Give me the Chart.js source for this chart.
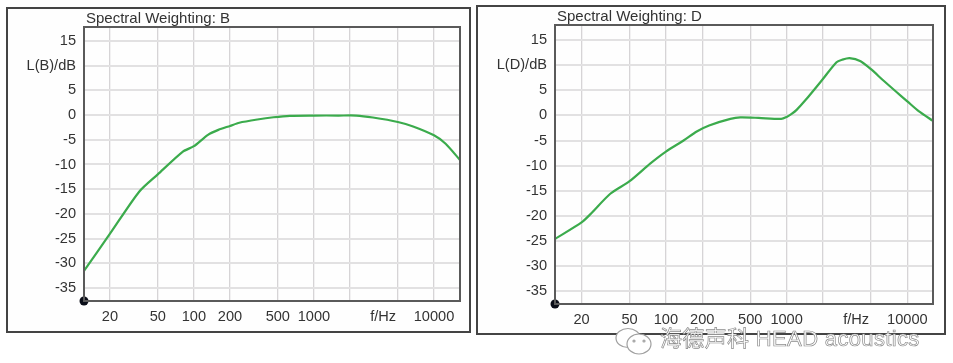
<!DOCTYPE html>
<html>
<head>
<meta charset="utf-8">
<title>Spectral Weighting</title>
<script src="https://cdn.jsdelivr.net/npm/chart.js@4/dist/chart.umd.min.js"></script>
<style>
  html, body { margin: 0; padding: 0; background: #fff; }
  body { width: 953px; height: 363px; position: relative; overflow: hidden; }
  .panel { position: absolute; border: 2px solid #444; background: #fefefe; box-sizing: border-box; }
  .panel canvas { position: absolute; left: 0; top: 0; }
  #panel-b { left: 6px; top: 7px; width: 465px; height: 326px; }
  #panel-d { left: 476px; top: 5px; width: 470px; height: 330px; }
  #mark { position: absolute; left: 660px; top: 326px; font: 22px/26px "Liberation Sans", "Noto Sans CJK SC", sans-serif;
          color: #fff; -webkit-text-stroke: 0.7px #8c8c8c; white-space: nowrap; letter-spacing: 0.35px; }
  #mark-icon { position: absolute; left: 614px; top: 327px; }
</style>
</head>
<body>
<div class="panel" id="panel-b"><canvas id="chartB" width="461" height="322"></canvas></div>
<div class="panel" id="panel-d"><canvas id="chartD" width="466" height="326"></canvas></div>
<svg id="mark-icon" width="40" height="30" fill="#fff" stroke="#a0a0a0" stroke-width="1.2">
  <ellipse cx="14" cy="11" rx="12" ry="9.5"/>
  <ellipse cx="25" cy="17" rx="12" ry="10"/>
  <circle cx="20" cy="14" r="1"/>
  <circle cx="30" cy="14" r="1"/>
</svg>
<div id="mark">海德声科 HEAD acoustics</div>

<script>
// Values
const freqB = [12.15, 20, 35, 50, 81, 100, 131, 160, 200, 239, 338, 460, 630, 1000, 1600, 2260, 3100, 5000, 6700, 10000, 12500, 16470];
const levelB = [-31.5, -24, -15.5, -12, -7.4, -6.3, -4, -3, -2.2, -1.55, -0.9, -0.45, -0.15, -0.1, -0.1, -0.1, -0.5, -1.4, -2.3, -4.1, -5.8, -9.1];

const freqD = [12.05, 20, 23.6, 34.6, 50, 74, 100, 140, 180, 228, 342, 413, 586, 902, 1000, 1100, 1210, 1440, 1990, 2590, 2900, 3320, 4100, 5000, 6300, 8000, 10000, 12500, 16320];
const levelD = [-24.6, -21.3, -19.7, -15.6, -13.1, -9.6, -7.2, -5, -3.2, -2, -0.7, -0.4, -0.5, -0.7, -0.3, 0.3, 1.1, 3.1, 7.2, 10.6, 11.1, 11.4, 10.8, 9.2, 7, 4.8, 2.8, 0.8, -1.1];

const yTicks = [15, 10, 5, 0, -5, -10, -15, -20, -25, -30, -35];
const xTicks = [20, 50, 100, 200, 500, 1000, 2000, 3770, 5000, 10000];
const xLabels = ['20', '50', '100', '200', '500', '1000', '', 'f/Hz', '', '10000'];
const unitTick = 3770; // only carries the f/Hz label, no grid line

const FONT = { family: '"Liberation Sans", Arial, sans-serif', size: 14.6 };
const GREEN = '#3bab4c';
const AXIS = '#5a5a5a';

// Dark frame on top and right of the plot area, title nudged to sit over the plot
const plotFrame = {
    id: 'plotFrame',
    afterLayout(chart) {
        const t = chart.titleBlock;
        t.left += 2;
        t.right += 2;
        t.top += 1;
        t.bottom += 1;
    },
    afterDatasetsDraw(chart) {
        const a = chart.chartArea;
        const ctx = chart.ctx;
        ctx.save();
        ctx.strokeStyle = AXIS;
        ctx.lineWidth = 2;
        ctx.strokeRect(a.left, a.top, a.right - a.left, a.bottom - a.top);
        ctx.restore();
    }
};

function makeChart(id, freqs, levels, cfg) {
    const points = freqs.map((f, i) => ({ x: f, y: levels[i] }));
    return new Chart(document.getElementById(id), {
        type: 'line',
        plugins: [plotFrame],
        data: {
            datasets: [
                {
                    data: points,
                    borderColor: GREEN,
                    borderWidth: 2.2,
                    pointRadius: 0,
                    tension: 0.25
                },
                {
                    // origin marker in the lower left corner
                    data: [{ x: cfg.xMin, y: cfg.yMin }],
                    pointRadius: 4.5,
                    pointBackgroundColor: '#0a0d18',
                    pointBorderWidth: 0,
                    showLine: false,
                    clip: false
                }
            ]
        },
        options: {
            responsive: false,
            animation: false,
            layout: { padding: { top: cfg.padTop, right: cfg.padRight, left: 0, bottom: 0 } },
            plugins: {
                legend: { display: false },
                tooltip: { enabled: false },
                title: {
                    display: true,
                    text: cfg.title,
                    align: 'start',
                    fullSize: false,
                    color: '#333',
                    font: { family: FONT.family, size: 15, weight: 'normal' },
                    padding: { top: 0, bottom: 0 }
                }
            },
            scales: {
                x: {
                    type: 'logarithmic',
                    min: cfg.xMin,
                    max: cfg.xMax,
                    afterBuildTicks: s => { s.ticks = xTicks.map(v => ({ value: v })); },
                    afterFit: s => { s.height = cfg.xAxisHeight; },
                    border: { color: AXIS, width: 2 },
                    grid: {
                        drawTicks: false,
                        lineWidth: 1.3,
                        color: c => (c.tick && c.tick.value === unitTick) ? 'transparent' : '#d6d4d6'
                    },
                    ticks: {
                        autoSkip: false,
                        maxRotation: 0,
                        padding: 7,
                        color: '#333',
                        font: FONT,
                        callback: v => {
                            const i = xTicks.indexOf(v);
                            return i >= 0 ? xLabels[i] : '';
                        }
                    }
                },
                y: {
                    min: cfg.yMin,
                    max: cfg.yMax,
                    afterBuildTicks: s => { s.ticks = yTicks.map(v => ({ value: v })); },
                    afterFit: s => { s.width = cfg.yAxisWidth; },
                    border: { color: AXIS, width: 2 },
                    grid: { drawTicks: false, lineWidth: 2, color: '#e2e1e2' },
                    ticks: {
                        autoSkip: false,
                        padding: 8,
                        color: '#333',
                        font: FONT,
                        callback: v => v === 10 ? cfg.yLabel : String(v)
                    }
                }
            }
        }
    });
}

makeChart('chartB', freqB, levelB, {
    title: 'Spectral Weighting: B', yLabel: 'L(B)/dB',
    xMin: 12.15, xMax: 16470, yMin: -37.6, yMax: 17.8,
    padTop: 0, padRight: 9, xAxisHeight: 30, yAxisWidth: 76
});
makeChart('chartD', freqD, levelD, {
    title: 'Spectral Weighting: D', yLabel: 'L(D)/dB',
    xMin: 12.05, xMax: 16320, yMin: -37.55, yMax: 18,
    padTop: 0, padRight: 11, xAxisHeight: 29, yAxisWidth: 77
});
</script>
</body>
</html>
